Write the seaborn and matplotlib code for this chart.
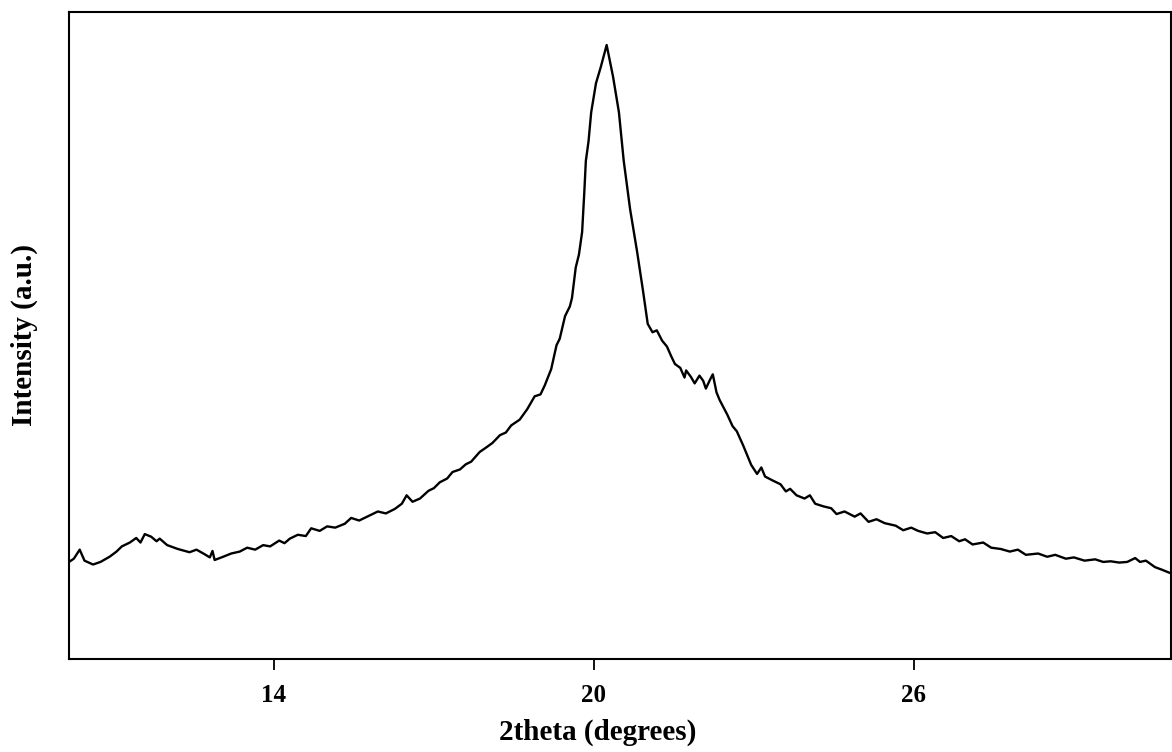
import matplotlib
matplotlib.use("Agg")
import matplotlib.pyplot as plt
import seaborn as sns
import pandas as pd

two_theta = [
    10.16, 10.25, 10.36, 10.45, 10.61, 10.75, 10.92, 11.05, 11.15, 11.30,
    11.42, 11.50, 11.58, 11.70, 11.80, 11.86, 12.00, 12.20, 12.42, 12.55,
    12.70, 12.80, 12.85, 12.89, 13.05, 13.20, 13.36, 13.50, 13.65, 13.80,
    13.93, 14.10, 14.20, 14.30, 14.45, 14.60, 14.70, 14.86, 15.00, 15.15,
    15.33, 15.45, 15.60, 15.80, 15.95, 16.10, 16.27, 16.40, 16.49, 16.60,
    16.74, 16.90, 17.00, 17.11, 17.25, 17.35, 17.49, 17.60, 17.70, 17.86,
    18.00, 18.10, 18.24, 18.35, 18.45, 18.61, 18.75, 18.89, 19.00, 19.08,
    19.20, 19.30, 19.36, 19.46, 19.55, 19.59, 19.66, 19.72, 19.78, 19.82,
    19.85, 19.90, 19.95, 20.04, 20.13, 20.24, 20.36, 20.47, 20.56, 20.68,
    20.81, 20.92, 21.01, 21.10, 21.18, 21.28, 21.37, 21.45, 21.52, 21.62,
    21.70, 21.73, 21.82, 21.89, 21.98, 22.05, 22.10, 22.18, 22.23, 22.30,
    22.36, 22.50, 22.60, 22.68, 22.80, 22.95, 23.06, 23.14, 23.21, 23.35,
    23.50, 23.60, 23.68, 23.80, 23.95, 24.05, 24.15, 24.30, 24.45, 24.55,
    24.70, 24.89, 25.00, 25.15, 25.30, 25.45, 25.66, 25.80, 25.95, 26.08,
    26.25, 26.40, 26.55, 26.70, 26.85, 26.96, 27.10, 27.30, 27.45, 27.63,
    27.80, 27.95, 28.10, 28.33, 28.50, 28.65, 28.85, 29.00, 29.20, 29.40,
    29.55, 29.69, 29.85, 30.00, 30.15, 30.24, 30.35, 30.52, 30.65, 30.80,
]

intensity = [
    15.0, 15.5, 16.9, 15.2, 14.6, 15.0, 15.8, 16.6, 17.4, 18.0,
    18.7, 18.0, 19.3, 18.9, 18.2, 18.6, 17.6, 17.0, 16.5, 16.9,
    16.2, 15.7, 16.7, 15.3, 15.8, 16.3, 16.6, 17.2, 16.9, 17.6,
    17.4, 18.3, 17.9, 18.6, 19.2, 19.0, 20.2, 19.8, 20.5, 20.3,
    20.9, 21.8, 21.4, 22.2, 22.8, 22.5, 23.2, 24.0, 25.3, 24.3,
    24.8, 26.0, 26.4, 27.3, 27.9, 28.9, 29.3, 30.1, 30.5, 32.0,
    32.8, 33.4, 34.6, 35.0, 36.1, 37.0, 38.6, 40.6, 40.9, 42.3,
    44.8, 48.5, 49.5, 53.0, 54.5, 55.8, 60.5, 62.5, 66.0, 72.0,
    77.0, 80.0, 84.5, 89.0, 91.5, 94.9, 90.0, 84.5, 77.0, 69.5,
    63.0, 57.0, 51.8, 50.5, 50.8, 49.2, 48.3, 46.8, 45.6, 45.0,
    43.5, 44.6, 43.6, 42.6, 43.8, 43.0, 41.8, 43.2, 44.0, 41.2,
    40.0, 37.8, 36.0, 35.2, 33.0, 30.0, 28.6, 29.6, 28.2, 27.6,
    27.0, 25.9, 26.3, 25.3, 24.8, 25.3, 24.0, 23.6, 23.3, 22.4,
    22.8, 22.0, 22.5, 21.2, 21.6, 21.0, 20.6, 19.9, 20.3, 19.8,
    19.4, 19.6, 18.7, 19.0, 18.2, 18.5, 17.7, 18.0, 17.2, 17.0,
    16.6, 16.9, 16.1, 16.3, 15.8, 16.1, 15.5, 15.7, 15.2, 15.4,
    15.0, 15.1, 14.9, 15.0, 15.6, 15.0, 15.2, 14.2, 13.8, 13.3,
]

x_ticks = [14, 20, 26]
x_tick_labels = ["14", "20", "26"]

df = pd.DataFrame({"2theta": two_theta, "Intensity": intensity})

sns.set_theme(style="white")
plt.rcParams["font.family"] = ["Liberation Serif", "DejaVu Serif"]

fig = plt.figure(figsize=(11.72, 7.52), dpi=100)
ax = fig.add_axes([0.0589, 0.1237, 0.9402, 0.8603])

sns.lineplot(data=df, x="2theta", y="Intensity", ax=ax, color="black",
             linewidth=1.7, sort=True)

ax.set_xlim(10.16, 30.82)
ax.set_ylim(0, 100)
ax.set_xticks(x_ticks)
ax.set_xticklabels(x_tick_labels, fontsize=18, fontweight="bold", color="black")
ax.set_yticks([])
ax.tick_params(axis="x", direction="out", length=8, width=1.3, color="black",
               labelcolor="black", bottom=True, pad=10)
for s in ax.spines.values():
    s.set_visible(True)
    s.set_color("black")
    s.set_linewidth(1.5)

ax.set_xlabel("")
ax.set_ylabel("")
fig.text(598 / 1172, 1 - 732 / 752, "2theta (degrees)", fontsize=21,
         fontweight="bold", ha="center", va="center", color="black")
fig.text(24 / 1172, 1 - 335 / 752, "Intensity (a.u.)", fontsize=21,
         fontweight="bold", ha="center", va="center", rotation=90,
         color="black")

fig.savefig("out.png", dpi=100, facecolor="white")
